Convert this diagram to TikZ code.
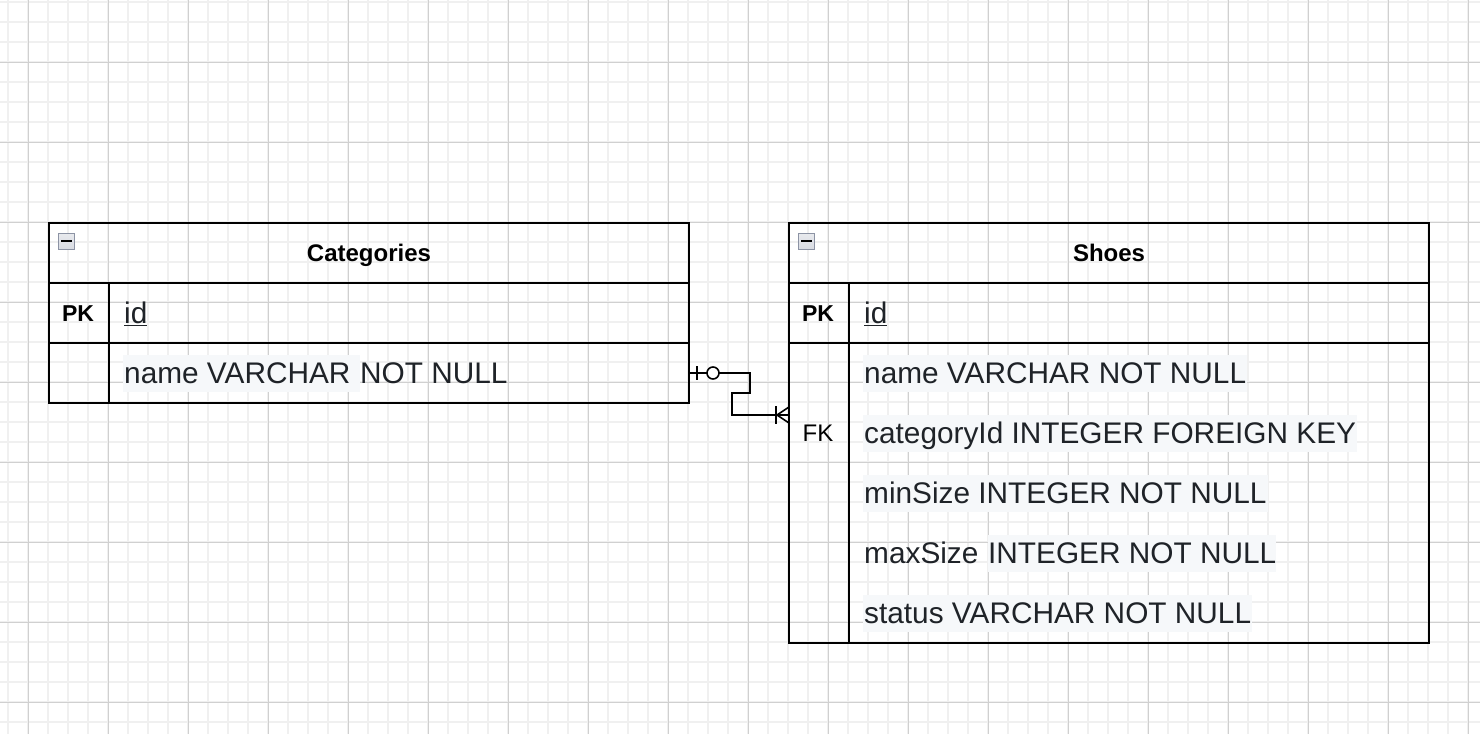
\documentclass[tikz,border=0pt]{standalone}
\usepackage{fontspec}
\setmainfont{Liberation Sans}
\definecolor{gridminor}{HTML}{F0F0F0}
\definecolor{gridmajor}{HTML}{D0D0D0}
\definecolor{hl}{HTML}{F6F8FA}
\definecolor{txt}{HTML}{1F2328}
\definecolor{iconfill}{HTML}{D8DBE2}
\definecolor{iconedge}{HTML}{8C93A4}
\begin{document}
\begin{tikzpicture}[x=1pt,y=-1pt,
  gminor/.style={draw=gridminor,line width=1.5pt},
  gmajor/.style={draw=gridmajor,line width=1pt},
  tbl/.style={draw=black,line width=1.8pt,rectangle,inner sep=0pt},
  tline/.style={draw=black,line width=1.8pt},
  hdr/.style={font=\fontsize{24}{28}\selectfont\bfseries,text=black,text height=17pt,text depth=0pt},
  pkey/.style={font=\fontsize{23}{27}\selectfont\bfseries,text=black,text height=16.5pt,text depth=0pt},
  fkey/.style={font=\fontsize{24}{28}\selectfont,text=black,text height=17pt,text depth=0pt},
  field/.style={anchor=west,font=\fontsize{29.8}{34}\selectfont,text=txt,inner xsep=1pt,inner ysep=0pt,minimum height=37pt,text height=21.5pt,text depth=0pt},
  hfield/.style={field,fill=hl},
  conn/.style={draw=black,line width=1.6pt},
  iconbox/.style={rectangle,draw=iconedge,line width=1pt,top color=iconfill!60,bottom color=iconfill,minimum width=16pt,minimum height=16pt,inner sep=0pt}
]
\useasboundingbox (0,0) rectangle (1480,734);
\fill[white] (0,0) rectangle (1480,734);
% grid
\foreach \x in {8,28,...,1480} \draw[gminor] (\x,0) -- (\x,734);
\foreach \y in {2,22,...,734} \draw[gminor] (0,\y) -- (1480,\y);
\foreach \x in {28,108,...,1480} \draw[gmajor] (\x,0) -- (\x,734);
\foreach \y in {62,142,...,734} \draw[gmajor] (0,\y) -- (1480,\y);

% ---------- Categories ----------
\node[tbl,minimum width=640pt,minimum height=180pt] (cat) at (369,313) {};
\draw[tline] (49,283) -- (689,283);
\draw[tline] (49,343) -- (689,343);
\draw[tline] (109,283) -- (109,403);
\node[iconbox] (caticon) at (66.5,241) {};
\draw[line width=2pt,black] (61,241) -- (72,241);
\node[hdr] (cathdr) at (369,253) {Categories};
\node[pkey] (catpk) at (78,313) {PK};
\node[field] (catid) at (123,313) {\underline{id}};
\node[hfield] (catname) at (123,373) {name VARCHAR\hspace*{\fontdimen2\font}};
\node[field,inner xsep=0pt] (catnamerest) at (catname.east) {NOT NULL};

% ---------- Shoes ----------
\node[tbl,minimum width=640pt,minimum height=420pt] (shoes) at (1109,433) {};
\draw[tline] (789,283) -- (1429,283);
\draw[tline] (789,343) -- (1429,343);
\draw[tline] (849,283) -- (849,643);
\node[iconbox] (shoesicon) at (806.5,241) {};
\draw[line width=2pt,black] (801,241) -- (812,241);
\node[hdr] (shoeshdr) at (1109,253) {Shoes};
\node[pkey] (shoespk) at (818,313) {PK};
\node[fkey] (shoesfk) at (818,433) {FK};
\node[field] (shoesid) at (863,313) {\underline{id}};
\node[hfield] (sname) at (863,373) {name VARCHAR NOT NULL};
\node[hfield] (scat) at (863,433) {categoryId INTEGER FOREIGN KEY};
\node[hfield] (smin) at (863,493) {minSize INTEGER NOT NULL};
\node[field] (smax) at (863,553) {maxSize\hspace*{\fontdimen2\font}};
\node[hfield,inner xsep=0pt] (smaxrest) at (smax.east) {INTEGER NOT NULL};
\node[hfield] (sstatus) at (863,613) {status VARCHAR NOT NULL};

% ---------- relation ----------
\coordinate (fkend) at (789,415);
\draw[conn] (cat.east |- catname.center) -- ++(60,0) -- ++(0,20) -- ++(-18,0) |- (fkend);
% zero-or-one at Categories
\draw[conn] (697,366) -- (697,380);
\draw[conn,fill=white] (713,373) circle (6);
% one-or-many at Shoes
\draw[conn] (776,406) -- (776,424);
\draw[conn] (789,407) -- (777,415) -- (789,423);
\end{tikzpicture}
\end{document}
